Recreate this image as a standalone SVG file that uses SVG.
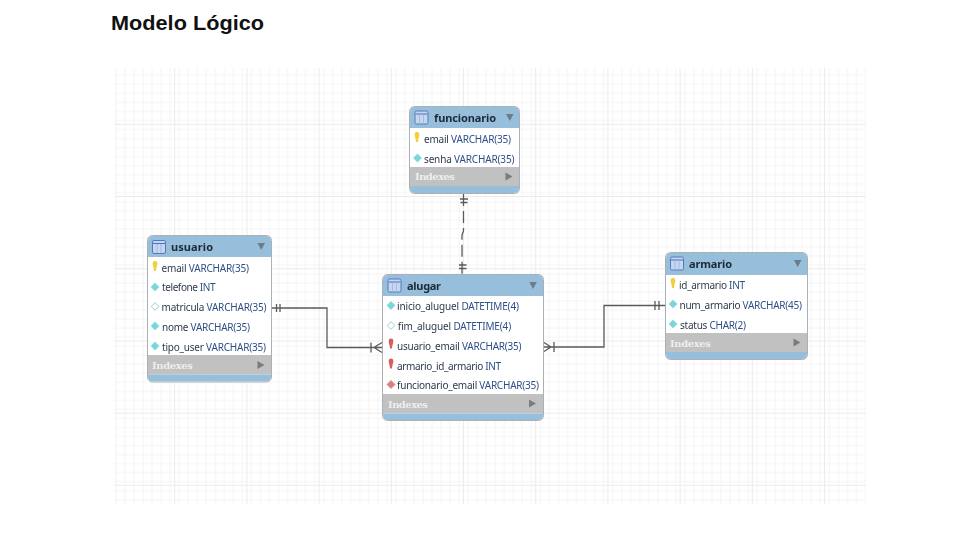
<svg xmlns="http://www.w3.org/2000/svg" xmlns:xlink="http://www.w3.org/1999/xlink" width="976" height="540" viewBox="0 0 976 540">
<style>
.r{font:10px "Noto Sans","Liberation Sans",sans-serif;fill:#2e3a4c}
.r tspan{fill:#2f4f86}
.t{font:bold 11px "Noto Sans","Liberation Sans",sans-serif;fill:#1d2a38}
.i{font:bold 10px "DejaVu Serif","Liberation Serif",serif;fill:#efefef}
.card{fill:#fff;stroke:#a9b0b6;stroke-width:1}
.hd{fill:#97bfdb}
.ix{fill:#c1c1c1}
.ln{fill:none;stroke:#5a5a5a;stroke-width:1.3}
.dn{fill:#6e7b86}
.rt{fill:#7b7b7b}
.soft{filter:url(#soft)}
</style>
<defs>
<filter id="soft" x="-5%" y="-5%" width="110%" height="110%"><feGaussianBlur stdDeviation="0.35"/></filter>
<pattern id="minor" patternUnits="userSpaceOnUse" x="120.5" y="70.8" width="9.03" height="9.03">
<path d="M4.5 0V9.03M0 4.5H9.03" stroke="#f4f4f4" fill="none"/>
</pattern>
<pattern id="major" patternUnits="userSpaceOnUse" x="138.6" y="88.2" width="72.2" height="72.2">
<path d="M36.1 0V72.2M0 36.1H72.2" stroke="#ebebeb" fill="none"/>
</pattern>
<g id="tbl"><rect x="-6.500" y="-6.500" width="13" height="13" rx="1.500" fill="#c6d6ee" stroke="#5578c4"/><path d="M-6-3.500H6" stroke="#4a6fc0" fill="none"/><path d="M-2-3V6M2-3V6" stroke="#a3bbe0" fill="none"/></g>
<path id="dia" d="M0-4.200 4.200 0 0 4.200-4.200 0Z" fill="#79d6dc" stroke="#a8dfe3" stroke-width=".6"/>
<path id="nul" d="M0-3.800 3.800 0 0 3.800-3.800 0Z" fill="#fff" stroke="#9fcfd4" stroke-width="1"/>
<path id="fk" d="M0-4.200 4.200 0 0 4.200-4.200 0Z" fill="#d98080" stroke="#e0a0a0" stroke-width=".6"/>
<path id="key" d="M-2.400-3.500A2.400 2.400 0 0 1 2.400-3.500C2.400-1.500 1.200 0 1 4H-1C-1.200 0-2.400-1.500-2.400-3.500Z" fill="#f2cf3a"/>
<path id="rk" d="M-2.400-3.500A2.400 2.400 0 0 1 2.400-3.500C2.400-1.500 1.200 0 1 4H-1C-1.200 0-2.400-1.500-2.400-3.500Z" fill="#d9605a"/>
</defs>

<text x="111" y="30" font-family="Liberation Sans,sans-serif" font-weight="bold" font-size="21" fill="#111" textLength="153" lengthAdjust="spacingAndGlyphs">Modelo Lógico</text>

<g id="grid">
<rect x="114" y="68" width="752" height="436" fill="url(#minor)"/>
<rect x="114" y="68" width="752" height="436" fill="url(#major)"/>
</g>

<g id="connectors" class="soft">
<path class="ln" d="M272 308H327V347.500H382M276.500 304V312M280 304V312M371 342.500V352.500M382 342.500L374 347.500L382 352.500"/>
<path class="ln" d="M544 347H604V305.500H665M655 301V310M659 301V310M554 342V352M544 342.500L551 347L544 351.500"/>
<path class="ln" d="M463.500 194V231L462 235V274" stroke-dasharray="12 5"/>
<path class="ln" d="M460 199H468M460.500 202.500H467.500M459 265H466.500M459 268.500H466.500"/>
</g>

<g id="funcionario" class="soft">
<rect class="card" x="409.500" y="106.500" width="110" height="87" rx="5"/>
<path class="hd" d="M410 128V112Q410 107 415 107H514Q519 107 519 112V128Z"/>
<rect class="ix" x="410" y="167" width="109" height="19"/>
<path class="hd" d="M410 186H519V188Q519 193 514 193H415Q410 193 410 188Z"/>
<use xlink:href="#tbl" x="421.500" y="117.500"/>
<text class="t" x="434" y="122" textLength="62">funcionario</text>
<path class="dn" d="M506 114H513.500L509.800 121Z"/>
<use xlink:href="#key" x="417" y="138"/>
<text class="r" x="424" y="142.500" textLength="87">email <tspan>VARCHAR(35)</tspan></text>
<use xlink:href="#dia" x="417.500" y="158"/>
<text class="r" x="424" y="162.500" textLength="90.500">senha <tspan>VARCHAR(35)</tspan></text>
<text class="i" x="415" y="180" textLength="40">Indexes</text>
<path class="rt" d="M505.500 172.500 512.500 176.500 505.500 180.500Z"/>
</g>

<g id="usuario" class="soft">
<rect class="card" x="147.500" y="235.500" width="124" height="146.500" rx="5"/>
<path class="hd" d="M148 257V241Q148 236 153 236H266Q271 236 271 241V257Z"/>
<rect class="ix" x="148" y="355" width="123" height="19.500"/>
<path class="hd" d="M148 374.500H271V376.500Q271 381.500 266 381.500H153Q148 381.500 148 376.500Z"/>
<use xlink:href="#tbl" x="159" y="247"/>
<text class="t" x="171" y="251" textLength="42">usuario</text>
<path class="dn" d="M257.500 243H265L261.200 250Z"/>
<use xlink:href="#key" x="155" y="267"/>
<text class="r" x="161.500" y="271.500" textLength="87.500">email <tspan>VARCHAR(35)</tspan></text>
<use xlink:href="#dia" x="155" y="287"/>
<text class="r" x="162" y="291" textLength="53.500">telefone <tspan>INT</tspan></text>
<use xlink:href="#nul" x="155" y="306.500"/>
<text class="r" x="161.500" y="311" textLength="105">matricula <tspan>VARCHAR(35)</tspan></text>
<use xlink:href="#dia" x="155" y="326"/>
<text class="r" x="162" y="331" textLength="88">nome <tspan>VARCHAR(35)</tspan></text>
<use xlink:href="#dia" x="155" y="346"/>
<text class="r" x="162" y="350.500" textLength="104">tipo_user <tspan>VARCHAR(35)</tspan></text>
<text class="i" x="152" y="369" textLength="41">Indexes</text>
<path class="rt" d="M257.500 361 264.500 365 257.500 369Z"/>
</g>

<g id="alugar" class="soft">
<rect class="card" x="382.500" y="274.500" width="161" height="146" rx="5"/>
<path class="hd" d="M383 296V280Q383 275 388 275H538Q543 275 543 280V296Z"/>
<rect class="ix" x="383" y="394" width="160" height="19.500"/>
<path class="hd" d="M383 413.500H543V415Q543 420 538 420H388Q383 420 383 415Z"/>
<use xlink:href="#tbl" x="394.500" y="285.500"/>
<text class="t" x="407" y="290" textLength="34">alugar</text>
<path class="dn" d="M529.300 282H536.800L533 289Z"/>
<use xlink:href="#dia" x="391" y="305.500"/>
<text class="r" x="397" y="310" textLength="122">inicio_aluguel <tspan>DATETIME(4)</tspan></text>
<use xlink:href="#nul" x="391" y="325.500"/>
<text class="r" x="397.500" y="330" textLength="113.500">fim_aluguel <tspan>DATETIME(4)</tspan></text>
<use xlink:href="#rk" x="391" y="344.500"/>
<text class="r" x="397" y="349.500" textLength="124.500">usuario_email <tspan>VARCHAR(35)</tspan></text>
<use xlink:href="#rk" x="391" y="364.500"/>
<text class="r" x="397" y="369.500" textLength="104">armario_id_armario <tspan>INT</tspan></text>
<use xlink:href="#fk" x="391" y="384.500"/>
<text class="r" x="397" y="389" textLength="142">funcionario_email <tspan>VARCHAR(35)</tspan></text>
<text class="i" x="388" y="407.500" textLength="40">Indexes</text>
<path class="rt" d="M529 399.500 536 403.500 529 407.500Z"/>
</g>

<g id="armario" class="soft">
<rect class="card" x="665.500" y="252.500" width="142" height="107" rx="5"/>
<path class="hd" d="M666 275V258Q666 253 671 253H802Q807 253 807 258V275Z"/>
<rect class="ix" x="666" y="333" width="141" height="19"/>
<path class="hd" d="M666 352H807V354Q807 359 802 359H671Q666 359 666 354Z"/>
<use xlink:href="#tbl" x="677" y="263.500"/>
<text class="t" x="689" y="268" textLength="43">armario</text>
<path class="dn" d="M794 260H801.500L797.700 267Z"/>
<use xlink:href="#key" x="673" y="284"/>
<text class="r" x="679" y="289" textLength="66">id_armario <tspan>INT</tspan></text>
<use xlink:href="#dia" x="673" y="304"/>
<text class="r" x="679.500" y="308.500" textLength="122.500">num_armario <tspan>VARCHAR(45)</tspan></text>
<use xlink:href="#dia" x="673" y="324"/>
<text class="r" x="680" y="328.500" textLength="66">status <tspan>CHAR(2)</tspan></text>
<text class="i" x="670" y="346.500" textLength="41">Indexes</text>
<path class="rt" d="M793.500 338.500 800.500 342.500 793.500 346.500Z"/>
</g>
</svg>
